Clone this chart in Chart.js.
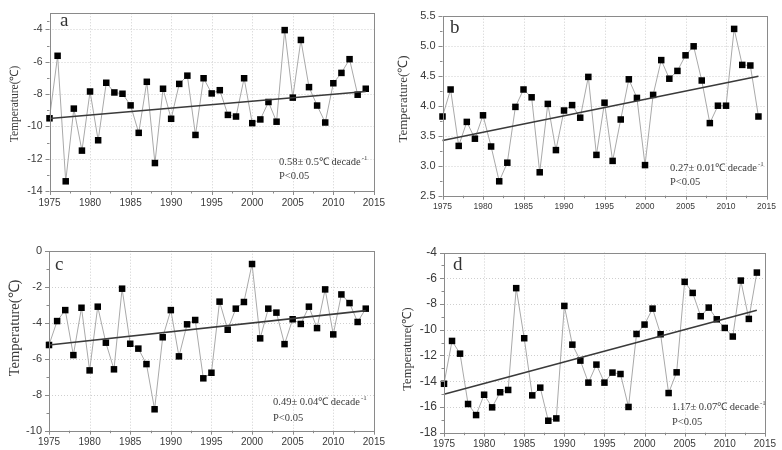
<!DOCTYPE html>
<html><head><meta charset="utf-8">
<script src="https://cdn.jsdelivr.net/npm/chart.js@4"></script>
<style>
html,body{margin:0;padding:0;background:#fff;}
#wrap{position:relative;width:782px;height:450px;overflow:hidden;background:#fff;}
canvas{position:absolute;}
</style></head><body><div id="wrap">
<canvas id="ca" width="391" height="222" style="left:0;top:0"></canvas>
<canvas id="cb" width="391" height="222" style="left:391px;top:0"></canvas>
<canvas id="cc" width="391" height="228" style="left:0;top:222px"></canvas>
<canvas id="cd" width="391" height="228" style="left:391px;top:222px"></canvas>
</div>
<script>
// ---- data ----
const years = [1975,1976,1977,1978,1979,1980,1981,1982,1983,1984,1985,1986,1987,1988,1989,1990,1991,1992,1993,1994,1995,1996,1997,1998,1999,2000,2001,2002,2003,2004,2005,2006,2007,2008,2009,2010,2011,2012,2013,2014];
const tempA = [-9.5,-5.63,-13.4,-8.9,-11.5,-7.84,-10.86,-7.3,-7.9,-7.98,-8.7,-10.4,-7.24,-12.27,-7.67,-9.53,-7.37,-6.86,-10.53,-7.02,-7.96,-7.76,-9.29,-9.39,-7.02,-9.8,-9.57,-8.49,-9.71,-4.04,-8.22,-4.65,-7.57,-8.71,-9.76,-7.33,-6.69,-5.84,-8.04,-7.67];
const tempB = [3.82,4.27,3.33,3.73,3.45,3.84,3.32,2.74,3.05,3.98,4.27,4.14,2.89,4.03,3.26,3.92,4.01,3.8,4.48,3.18,4.05,3.08,3.77,4.44,4.13,3.01,4.18,4.76,4.45,4.58,4.84,4.99,4.42,3.71,4.0,4.0,5.28,4.68,4.67,3.82];
const tempC = [-5.24,-3.91,-3.3,-5.8,-3.17,-6.65,-3.11,-5.11,-6.59,-2.11,-5.17,-5.44,-6.3,-8.81,-4.81,-3.3,-5.87,-4.09,-3.85,-7.09,-6.78,-2.83,-4.39,-3.22,-2.85,-0.74,-4.87,-3.22,-3.44,-5.19,-3.81,-4.07,-3.11,-4.3,-2.15,-4.65,-2.43,-2.91,-3.96,-3.22];
const tempD = [-14.2,-10.87,-11.86,-15.77,-16.63,-15.05,-16.03,-14.86,-14.68,-6.77,-10.66,-15.1,-14.5,-17.07,-16.89,-8.15,-11.16,-12.4,-14.11,-12.71,-14.11,-13.33,-13.44,-16.0,-10.33,-9.6,-8.36,-10.35,-14.92,-13.31,-6.28,-7.14,-8.95,-8.28,-9.19,-9.86,-10.53,-6.18,-9.16,-5.56];
const trendYears = [1975, 2014];
const trendA = [-9.51, -7.84];
const trendB = [3.42, 4.49];
const trendC = [-5.24, -3.33];
const trendD = [-15.02, -8.49];
const xTicks = [1975,1980,1985,1990,1995,2000,2005,2010,2015];
const yTicksA = [-14,-12,-10,-8,-6,-4];
const yTicksB = [2.5,3.0,3.5,4.0,4.5,5.0,5.5];
const yTicksC = [-10,-8,-6,-4,-2,0];
const yTicksD = [-18,-16,-14,-12,-10,-8,-6,-4];
const panelLetters = ['a','b','c','d'];
const slopeTexts = ['0.58\u00b1 0.5\u2103 decade','0.27\u00b1 0.01\u2103 decade','0.49\u00b1 0.04\u2103 decade','1.17\u00b1 0.07\u2103 decade'];
const slopeSup = '-1';
const pText = 'P<0.05';
const yTitle = 'Temperature(\u2103)';

// ---- layout / style per panel ----
const panels = [
  {id:'ca', temps:tempA, trend:trendA, yt:yTicksA, yMin:-14, yMax:-3, dec:0,
   area:{l:49.5,t:11,r:377,b:191}, xFont:10, yFont:10.5, titleFont:11.5, title:{x:15,y:104},
   letter:{x:60,y:26}, ann:{x:279,y1:162,y2:176}},
  {id:'cb', temps:tempB, trend:trendB, yt:yTicksB, yMin:2.5, yMax:5.5, dec:1,
   area:{l:51.5,t:15.7,r:375.7,b:195.7}, xFont:8.5, yFont:11, titleFont:13, title:{x:13,y:99},
   letter:{x:59,y:32.5}, ann:{x:279,y1:168,y2:182}},
  {id:'cc', temps:tempC, trend:trendC, yt:yTicksC, yMin:-10, yMax:0, dec:0,
   area:{l:49,t:28.7,r:377,b:208.7}, xFont:10, yFont:11, titleFont:14.5, title:{x:15,y:106},
   letter:{x:55,y:47.5}, ann:{x:273,y1:180,y2:196}},
  {id:'cd', temps:tempD, trend:trendD, yt:yTicksD, yMin:-18, yMax:-4, dec:0,
   area:{l:53,t:30.5,r:379.7,b:210.7}, xFont:10, yFont:12, titleFont:12.5, title:{x:17,y:127},
   letter:{x:62,y:48}, ann:{x:281,y1:185,y2:200}}
];

const framePlugin = {
  id: 'frame',
  beforeDatasetsDraw(chart, args, o) {
    const {ctx, chartArea: a, scales: {x, y}} = chart;
    ctx.save();
    ctx.strokeStyle = '#cfcfcf'; ctx.lineWidth = 1; ctx.setLineDash([1, 2]);
    x.ticks.forEach(t => {
      const px = Math.round(x.getPixelForValue(t.value)) + 0.5;
      if (px <= a.left + 1 || px >= a.right - 1) return;
      ctx.beginPath(); ctx.moveTo(px, a.top); ctx.lineTo(px, a.bottom); ctx.stroke();
    });
    y.ticks.forEach(t => {
      const py = Math.round(y.getPixelForValue(t.value)) + 0.5;
      if (py <= a.top + 1 || py >= a.bottom - 1) return;
      ctx.beginPath(); ctx.moveTo(a.left, py); ctx.lineTo(a.right, py); ctx.stroke();
    });
    ctx.restore();
  },
  afterDatasetsDraw(chart, args, o) {
    const {ctx, chartArea: a, scales: {x, y}} = chart;
    ctx.save();
    ctx.strokeStyle = '#8a8a8a'; ctx.lineWidth = 1; ctx.setLineDash([]);
    ctx.strokeRect(Math.round(a.left) + 0.5, Math.round(a.top) + 0.5, Math.round(a.right - a.left), Math.round(a.bottom - a.top));
    // ticks: major + minor (midpoints)
    const xv = x.ticks.map(t => t.value), yv = y.ticks.map(t => t.value);
    const tick = (vals, isX) => {
      vals.forEach((v, i) => {
        const list = [[v, 4]];
        if (i < vals.length - 1) list.push([(v + vals[i + 1]) / 2, 2.5]);
        list.forEach(([val, len]) => {
          ctx.beginPath();
          if (isX) {
            const px = Math.round(x.getPixelForValue(val)) + 0.5;
            ctx.moveTo(px, a.bottom); ctx.lineTo(px, a.bottom + len);
          } else {
            const py = Math.round(y.getPixelForValue(val)) + 0.5;
            ctx.moveTo(a.left, py); ctx.lineTo(a.left - len, py);
          }
          ctx.stroke();
        });
      });
    };
    tick(xv, true); tick(yv, false);
    if (yv[yv.length - 1] < y.max) {
      const py = Math.round(y.getPixelForValue((yv[yv.length - 1] + y.max) / 2)) + 0.5;
      ctx.beginPath(); ctx.moveTo(a.left, py); ctx.lineTo(a.left - 2.5, py); ctx.stroke();
    }
    // panel letter
    ctx.fillStyle = '#333';
    ctx.font = '19px "Liberation Serif", serif';
    ctx.textBaseline = 'alphabetic'; ctx.textAlign = 'left';
    ctx.fillText(o.letter, o.lx, o.ly);
    // annotation
    ctx.font = '10.5px "Liberation Serif", serif';
    ctx.textBaseline = 'middle';
    ctx.fillStyle = '#3a3a3a';
    ctx.fillText(o.slope, o.ax, o.ay1);
    const w = ctx.measureText(o.slope).width;
    ctx.font = '7px "Liberation Serif", serif';
    ctx.fillText(slopeSup, o.ax + w + 1, o.ay1 - 4);
    ctx.font = '10.5px "Liberation Serif", serif';
    ctx.fillText(pText, o.ax, o.ay2);
    // y title
    ctx.translate(o.tx, o.ty);
    ctx.rotate(-Math.PI / 2);
    ctx.textAlign = 'center';
    ctx.font = o.tf + 'px "Liberation Serif", serif';
    ctx.fillStyle = '#3a3a3a';
    ctx.fillText(yTitle, 0, 0);
    ctx.restore();
  }
};

panels.forEach((p, i) => {
  const cv = document.getElementById(p.id);
  const W = cv.width, H = cv.height;
  new Chart(cv, {
    type: 'line',
    data: {
      datasets: [
        {data: years.map((yr, k) => ({x: yr, y: p.temps[k]})), borderColor: '#a9a9a9', borderWidth: 1,
         pointStyle: 'rect', pointRadius: 4.6, pointBackgroundColor: '#000', pointBorderColor: '#000', pointBorderWidth: 0,
         clip: false, order: 1},
        {data: trendYears.map((yr, k) => ({x: yr, y: p.trend[k]})), borderColor: '#3a3a3a', borderWidth: 1.6,
         pointRadius: 0, clip: false, order: 0}
      ]
    },
    options: {
      responsive: false, animation: false, devicePixelRatio: 1,
      layout: {padding: {left: 0, top: p.area.t, right: W - p.area.r, bottom: 0}},
      plugins: {legend: {display: false}, tooltip: {enabled: false},
        frame: {letter: panelLetters[i], lx: p.letter.x, ly: p.letter.y, slope: slopeTexts[i],
                ax: p.ann.x, ay1: p.ann.y1, ay2: p.ann.y2, tx: p.title.x, ty: p.title.y, tf: p.titleFont}},
      scales: {
        x: {type: 'linear', min: 1975, max: 2015,
            grid: {display: false, drawTicks: false}, border: {display: false},
            afterBuildTicks: s => { s.ticks = xTicks.map(v => ({value: v})); },
            afterFit: s => { s.height = H - p.area.b; },
            ticks: {autoSkip: false, maxRotation: 0, minRotation: 0, padding: 6, color: '#3a3a3a',
                    font: {family: '"Liberation Sans", Arial, sans-serif', size: p.xFont},
                    callback: v => String(v)}},
        y: {type: 'linear', min: p.yMin, max: p.yMax,
            grid: {display: false, drawTicks: false}, border: {display: false},
            afterBuildTicks: s => { s.ticks = p.yt.map(v => ({value: v})); },
            afterFit: s => { s.width = p.area.l; },
            ticks: {autoSkip: false, padding: 7, color: '#3a3a3a',
                    font: {family: '"Liberation Sans", Arial, sans-serif', size: p.yFont},
                    callback: v => Number(v).toFixed(p.dec)}}
      }
    },
    plugins: [framePlugin]
  });
});
</script>
</body></html>
